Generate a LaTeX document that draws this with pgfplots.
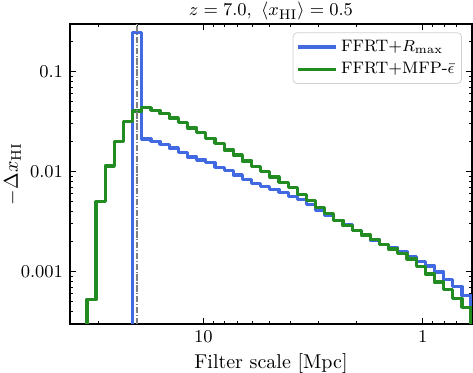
\documentclass[border=0pt]{standalone}
\usepackage{pgfplots}
\pgfplotsset{compat=1.18}
\definecolor{royal}{RGB}{65,105,225}
\definecolor{forest}{RGB}{34,139,34}
\begin{document}
\begin{tikzpicture}
\begin{axis}[
 name=ax,
 scale only axis, width=201pt, height=150pt,
 xmode=log, ymode=log, x dir=reverse,
 xmin=0.597, xmax=40.5, ymin=3e-4, ymax=0.3,
 xtick={1,10}, xticklabels={$1$,$10$},
 minor xtick={0.7,0.8,0.9,2,3,4,5,6,7,8,9,20,30},
 ytick={0.001,0.01,0.1}, yticklabels={$0.001$,$0.01$,$0.1$},
 minor ytick={4e-4,5e-4,6e-4,7e-4,8e-4,9e-4,2e-3,3e-3,4e-3,5e-3,6e-3,7e-3,8e-3,9e-3,0.02,0.03,0.04,0.05,0.06,0.07,0.08,0.09,0.2},
 tick align=inside, tick pos=both,
 major tick length=2.8pt, minor tick length=1.6pt,
 every tick/.style={black, line width=0.5pt},
 axis line style={line width=0.6pt},
 tick label style={font=\fontsize{9}{10}\selectfont},
 xlabel={Filter scale [Mpc]},
 ylabel={$-\Delta x_{\mathrm{HI}}$},
 title={$z=7.0,\ \langle x_{\mathrm{HI}}\rangle=0.5$},
 label style={font=\fontsize{10}{12}\selectfont},
 xlabel style={at={(axis description cs:0.5,-0.1477)}, anchor=base},
 ylabel style={at={(axis description cs:-0.143,0.5)}, anchor=center},
 title style={at={(axis description cs:0.5,1)}, anchor=base, yshift=-2pt, font=\fontsize{9.5}{11}\selectfont},
 legend style={at={(axis description cs:0.975,0.972)}, anchor=north east,
   draw=black!18, rounded corners=2pt, fill=white, fill opacity=0.8, text opacity=1,
   font=\fontsize{8.3}{10}\selectfont, inner xsep=1.5pt, inner ysep=1.5pt,
   row sep=0pt, cells={anchor=west}},
 legend image code/.code={\draw[#1] (0pt,0pt) -- (19pt,0pt);},
]
\addplot[const plot, royal, line width=1.6pt, line join=round] coordinates {
(20.98,1e-6) (20.98,0.247) (19.06,0.02128) (17.32,0.02009) (15.74,0.01875)
(14.30,0.0173) (12.99,0.0156) (11.80,0.01406) (10.72,0.01312) (9.739,0.01225)
(8.848,0.01104) (8.039,0.01019) (7.304,0.00929) (6.636,0.00837) (6.029,0.00764)
(5.478,0.00713) (4.977,0.00665) (4.522,0.00621) (4.108,0.0056) (3.732,0.00523)
(3.391,0.00466) (3.081,0.0041) (2.799,0.00366) (2.543,0.00326) (2.311,0.00294)
(2.099,0.00256) (1.907,0.00231) (1.732,0.00208) (1.574,0.001875) (1.430,0.00173)
(1.299,0.00158) (1.180,0.00142) (1.072,0.00127) (0.9739,0.00114) (0.8848,0.000995)
(0.8039,0.000838) (0.7304,0.000705) (0.6636,0.000573) (0.6029,0.000573) (0.6029,1e-6)
};
\addlegendentry{FFRT+$R_{\mathrm{max}}$}
\addplot[const plot, forest, line width=1.6pt, line join=round] coordinates {
(33.91,1e-6) (33.91,0.000528) (30.81,0.00501) (27.99,0.01138) (25.43,0.01995)
(23.10,0.0316) (20.98,0.0404) (19.06,0.0437) (17.32,0.0410) (15.74,0.0379)
(14.30,0.0345) (12.99,0.0308) (11.80,0.0274) (10.72,0.0247) (9.739,0.0215)
(8.848,0.0192) (8.039,0.01652) (7.304,0.01472) (6.636,0.01282) (6.029,0.0113)
(5.478,0.01007) (4.977,0.00887) (4.522,0.00782) (4.108,0.00689) (3.732,0.00593)
(3.391,0.00511) (3.081,0.00435) (2.799,0.00379) (2.543,0.00326) (2.311,0.0029)
(2.099,0.00259) (1.907,0.00233) (1.732,0.0021) (1.574,0.001875) (1.430,0.00169)
(1.299,0.00152) (1.180,0.00134) (1.072,0.00113) (0.9739,0.00095) (0.8848,0.00079)
(0.8039,0.000665) (0.7304,0.000535) (0.6636,0.00044) (0.6029,0.00044) (0.6029,1e-6)
};
\addlegendentry{FFRT+MFP-$\bar{\epsilon}$}
\addplot[forget plot, color=gray, line width=0.8pt, dash pattern=on 3.2pt off 0.8pt on 0.6pt off 0.8pt] coordinates {(20,3e-4) (20,0.3)};
\end{axis}
\pgfresetboundingbox
\path[use as bounding box] ([xshift=-35pt,yshift=-24.5pt]ax.south west) rectangle ([xshift=0.5pt,yshift=12pt]ax.north east);
\end{tikzpicture}
\end{document}
